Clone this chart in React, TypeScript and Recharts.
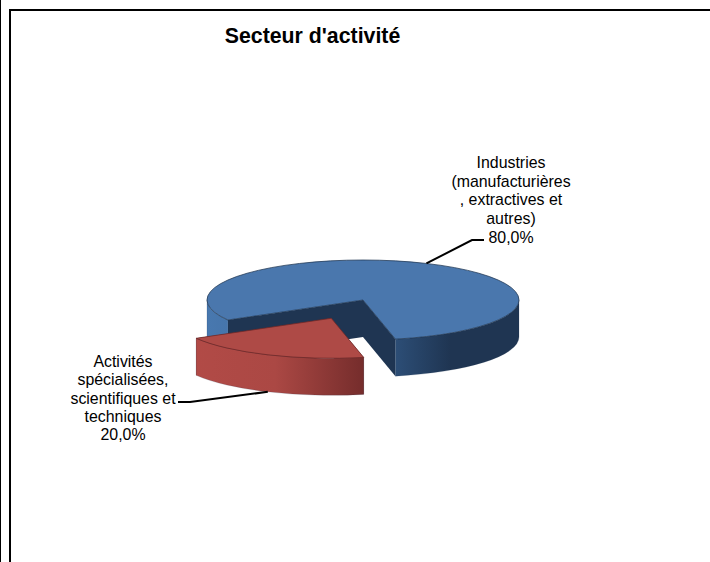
import { PieChart, Pie, Cell } from 'recharts';

const categories = ['Industries (manufacturières , extractives et autres)', 'Activités spécialisées, scientifiques et techniques'];
const shares = [80, 20];
const exploded = [0, 0.5];
const labelLines = [
  ['Industries', '(manufacturières', ', extractives et', 'autres)'],
  ['Activités', 'spécialisées,', 'scientifiques et', 'techniques'],
];

const topColors = ['#4a77ad', '#ae4a46'];
const cutColors = ['#1f3552', '#6e2a29'];
const wallStops = [
  [[0, '#4878af'], [0.07, '#4675ab'], [0.07, '#2e5078'], [0.61, '#2c4d75'], [0.78, '#1f3552'], [1, '#1f3552']],
  [[0, '#b34b47'], [0.32, '#ab4844'], [0.6, '#762d2c'], [1, '#762d2c']],
];
const labelSpots = [
  { x: 511, y: 168, step: 18.7, elbow: [472, 240], end: [484, 240] },
  { x: 123, y: 367, step: 18.3, elbow: [190, 402], end: [178, 402] },
];

const data = categories.map((name, i) => ({ name, value: shares[i], index: i }));

const SQUASH = 40 / 156;
const DEPTH = 37;
const RAD = Math.PI / 180;

const rimPoint = (cx: number, cy: number, r: number, angle: number) => ({
  x: cx + r * Math.cos(-angle * RAD),
  y: cy + r * SQUASH * Math.sin(-angle * RAD),
});

const explodedCenter = (cx: number, cy: number, r: number, mid: number, k: number) => rimPoint(cx, cy, r * k, mid);

// squashed sector with side walls, recharts hands us the angles
function Sector3D(props: any) {
  const { cx, cy, outerRadius: r, startAngle, endAngle, payload, index } = props;
  const i = payload?.index ?? index;
  const mid = (startAngle + endAngle) / 2;
  const c = explodedCenter(cx, cy, r, mid, exploded[i]);
  const ry = r * SQUASH;
  const a = rimPoint(c.x, c.y, r, startAngle);
  const b = rimPoint(c.x, c.y, r, endAngle);
  const large = endAngle - startAngle > 180 ? 1 : 0;
  const gradId = `wall-${i}`;

  const walls: string[] = [];
  for (const k of [-1, 0, 1]) {
    const from = Math.max(startAngle, 180 + 360 * k);
    const to = Math.min(endAngle, 360 + 360 * k);
    if (to <= from) continue;
    const p = rimPoint(c.x, c.y, r, from);
    const q = rimPoint(c.x, c.y, r, to);
    walls.push(
      `M${p.x},${p.y} A${r},${ry} 0 0 0 ${q.x},${q.y} L${q.x},${q.y + DEPTH} A${r},${ry} 0 0 1 ${p.x},${p.y + DEPTH} Z`,
    );
  }

  return (
    <g>
      <defs>
        <linearGradient id={gradId} gradientUnits="userSpaceOnUse" x1={c.x - r} x2={c.x + r} y1={0} y2={0}>
          {wallStops[i].map(([o, col]: any, n: number) => (
            <stop key={n} offset={o} stopColor={col} />
          ))}
        </linearGradient>
      </defs>
      <path d={`M${c.x},${c.y} L${a.x},${a.y} L${a.x},${a.y + DEPTH} L${c.x},${c.y + DEPTH} Z`} fill={cutColors[i]} />
      <path d={`M${c.x},${c.y} L${b.x},${b.y} L${b.x},${b.y + DEPTH} L${c.x},${c.y + DEPTH} Z`} fill={cutColors[i]} />
      {walls.map((d, n) => (
        <path key={n} d={d} fill={`url(#${gradId})`} stroke="#1f3552" strokeOpacity={0.35} strokeWidth={0.5} />
      ))}
      <path
        d={`M${c.x},${c.y} L${a.x},${a.y} A${r},${ry} 0 ${large} 0 ${b.x},${b.y} Z`}
        fill={topColors[i]}
        stroke={cutColors[i]}
        strokeWidth={0.75}
      />
    </g>
  );
}

function SliceLabel(props: any) {
  const { cx, cy, outerRadius: r, midAngle, percent, index } = props;
  const spot = labelSpots[index];
  const c = explodedCenter(cx, cy, r, midAngle, exploded[index]);
  const rim = rimPoint(c.x, c.y, r, midAngle);
  const startY = Math.sin(-midAngle * RAD) > 0 ? rim.y + DEPTH : rim.y;
  const pct = `${(percent * 100).toFixed(1).replace('.', ',')}%`;
  return (
    <g>
      <polyline
        points={`${rim.x},${startY} ${spot.elbow[0]},${spot.elbow[1]} ${spot.end[0]},${spot.end[1]}`}
        fill="none"
        stroke="#000"
        strokeWidth={2}
      />
      <text textAnchor="middle" fontFamily="Liberation Sans" fontSize={15.9} fill="#000">
        {[...labelLines[index], pct].map((line, n) => (
          <tspan key={n} x={spot.x} y={spot.y + n * spot.step}>
            {line}
          </tspan>
        ))}
      </text>
    </g>
  );
}

export default function App() {
  return (
    <div style={{ position: 'absolute', left: 0, top: 0, width: 710, height: 562, background: '#fff', overflow: 'hidden' }}>
      <div style={{ position: 'absolute', left: 0, top: 0, width: 1, height: 562, background: '#000' }} />
      <div style={{ position: 'absolute', left: 9, top: 9, width: 2, height: 553, background: '#000' }} />
      <div style={{ position: 'absolute', left: 9, top: 9, width: 701, height: 2, background: '#000' }} />
      <div
        style={{
          position: 'absolute',
          left: 0,
          top: 25,
          width: 625,
          textAlign: 'center',
          fontFamily: 'Liberation Sans',
          fontWeight: 'bold',
          fontSize: 21.3,
          lineHeight: '23px',
          color: '#000',
        }}
      >
        Secteur d'activité
      </div>
      <div style={{ position: 'absolute', left: 0, top: 0 }}>
        <PieChart width={710} height={562} margin={{ top: 0, right: 0, bottom: 0, left: 0 }}>
          <Pie
            data={data}
            dataKey="value"
            nameKey="name"
            cx={363}
            cy={300}
            innerRadius={0}
            outerRadius={156}
            startAngle={-78}
            endAngle={282}
            stroke="none"
            isAnimationActive={false}
            shape={Sector3D}
            label={SliceLabel}
            labelLine={false}
          >
            {data.map((d, i) => (
              <Cell key={d.name} fill={topColors[i]} />
            ))}
          </Pie>
        </PieChart>
      </div>
    </div>
  );
}
